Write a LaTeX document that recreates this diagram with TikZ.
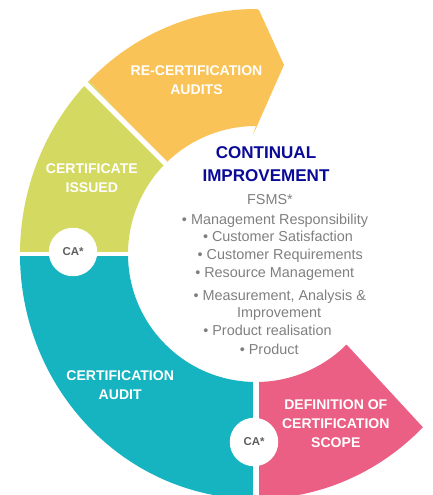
\documentclass[tikz,border=0pt]{standalone}
\usepackage{fontspec}
\setmainfont{Liberation Sans}
\definecolor{recert}{HTML}{FAC358}
\definecolor{issued}{HTML}{D4DA61}
\definecolor{audit}{HTML}{16B3C1}
\definecolor{scope}{HTML}{EA5F83}
\definecolor{ciblue}{HTML}{0A0A99}
\definecolor{listgray}{HTML}{7F7F7F}
\definecolor{cagray}{HTML}{5F5F5F}

\begin{document}
\begin{tikzpicture}[scale=0.02,
    gap/.style={white, line width=0.1cm},
    lbl/.style={text=white, font=\fontsize{8}{10.8}\selectfont\bfseries, align=center},
    ca/.style={circle, fill=white, minimum size=0.97cm, inner sep=0pt, text=cagray, font=\fontsize{6.5}{7}\selectfont\bfseries},
    item/.style={anchor=base, text=listgray, font=\fontsize{8.2}{10}\selectfont, inner sep=0pt}]
  \useasboundingbox (-256,-241) rectangle (177,254);

  % ring segments
  \fill[audit] (180:128) arc[start angle=180, end angle=270, radius=128]
    -- (270:236 and 245) arc[start angle=270, end angle=180, x radius=236, y radius=245] -- cycle;
  \fill[issued] (135:128) arc[start angle=135, end angle=180, radius=128]
    -- (180:236 and 245) arc[start angle=180, end angle=135, x radius=236, y radius=245] -- cycle;
  \fill[recert] (135:128) arc[start angle=135, end angle=90, radius=128]
    -- (-3,119) -- (28,189) -- (3,244)
    -- (90:236 and 245) arc[start angle=90, end angle=135, x radius=236, y radius=245] -- cycle;
  \fill[scope] (270:128) arc[start angle=270, end angle=315, radius=128]
    -- (315:236 and 245) arc[start angle=315, end angle=270, x radius=236, y radius=245] -- cycle;

  % white cuts
  \draw[gap] (180:120) -- (180:250);
  \draw[gap, line width=0.13cm] (270:120) -- (270:260);
  \draw[gap] (135:120) -- (135:260);

  \node[ca] (caissued) at (-183,2) {CA*};
  \node[ca] (cascope) at (-2,-188) {CA*};

  \node[lbl] (recertlbl) at (-59.5,173.5) {RE-CERTIFICATION\\AUDITS};
  \node[lbl] (issuedlbl) at (-164.2,75.7) {CERTIFICATE\\ISSUED};
  \node[lbl] (auditlbl) at (-135.8,-131.5) {CERTIFICATION\\AUDIT};
  \node[lbl] (scopelbl) at (79.8,-169.8) {DEFINITION OF\\CERTIFICATION\\SCOPE};

  \node[text=ciblue, font=\fontsize{9.7}{13.3}\selectfont\bfseries, align=center] (title) at (10,89.8) {CONTINUAL\\IMPROVEMENT};

  \foreach \n/\x/\y/\t in {0/14/49/{FSMS*},
      1/19/29/{• Management Responsibility},
      2/22/12.3/{• Customer Satisfaction},
      3/24.3/-6/{• Customer Requirements},
      4/18.7/-23.7/{• Resource Management},
      5/23.7/-46/{• Measurement, Analysis \&},
      6/23.2/-63.7/{Improvement},
      7/11.5/-81.7/{• Product realisation},
      8/13.2/-100.3/{• Product}}
    \node[item] (item\n) at (\x,\y) {\t};
\end{tikzpicture}
\end{document}
